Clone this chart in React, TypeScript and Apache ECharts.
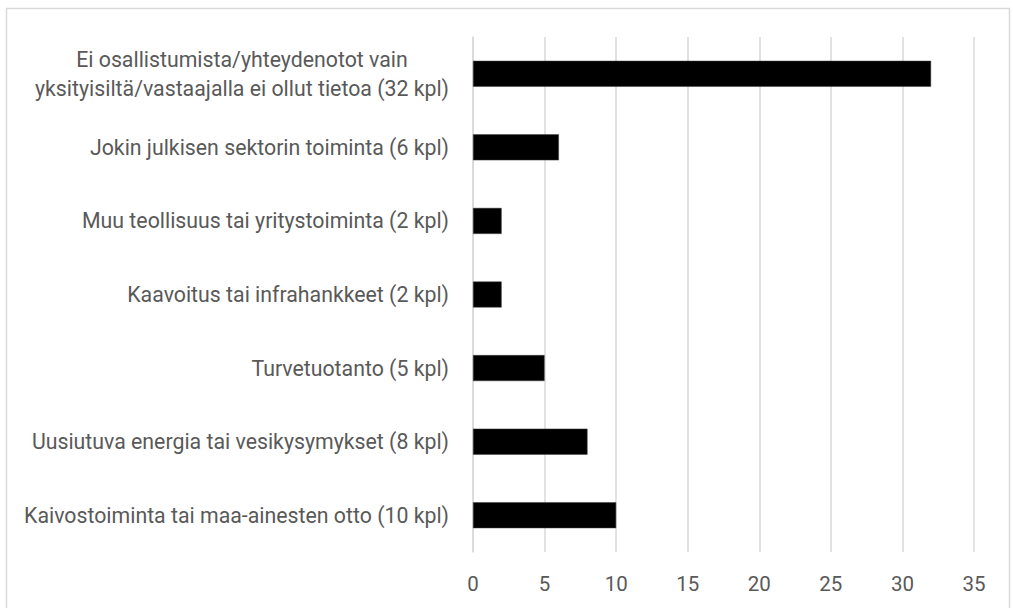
import React, { useEffect, useRef } from "react";
import * as echarts from "echarts";

const categories = [
  "Kaivostoiminta tai maa-ainesten otto (10 kpl)",
  "Uusiutuva energia tai vesikysymykset (8 kpl)",
  "Turvetuotanto (5 kpl)",
  "Kaavoitus tai infrahankkeet (2 kpl)",
  "Muu teollisuus tai yritystoiminta (2 kpl)",
  "Jokin julkisen sektorin toiminta (6 kpl)",
  "Ei osallistumista/yhteydenotot vain\nyksityisiltä/vastaajalla ei ollut tietoa (32 kpl)",
];
const values = [10, 8, 5, 2, 2, 6, 32];
const xMin = 0;
const xMax = 35;
const xStep = 5;

export default function App() {
  const ref = useRef<HTMLDivElement>(null);
  useEffect(() => {
    if (!ref.current) return;
    const chart = echarts.init(ref.current, undefined, { renderer: "svg" });
    chart.setOption({
      animation: false,
      backgroundColor: "#ffffff",
      graphic: [
        {
          type: "rect",
          shape: { x: 6.5, y: 8.5, width: 1003, height: 620 },
          style: { fill: "none", stroke: "#d9d9d9", lineWidth: 1.5 },
          silent: true,
        },
      ],
      grid: { left: 473, right: 39, top: 37, bottom: 56, containLabel: false },
      xAxis: {
        type: "value",
        min: xMin,
        max: xMax,
        interval: xStep,
        axisLine: { show: false },
        axisTick: { show: false },
        splitLine: { show: true, lineStyle: { color: "#d9d9d9", width: 1.5 } },
        axisLabel: {
          color: "#595959",
          fontSize: 20.5,
          fontFamily: "Roboto",
          margin: 21,
        },
      },
      yAxis: {
        type: "category",
        data: categories,
        axisLine: { show: true, lineStyle: { color: "#d9d9d9", width: 1.5 } },
        axisTick: { show: false },
        axisLabel: {
          color: "#595959",
          fontSize: 21.3,
          fontFamily: "Roboto",
          margin: 24,
          lineHeight: 29,
          formatter: (v: string) =>
            v
              .split("\n")
              .map((s) => "{c|" + s + "}")
              .join("\n"),
          rich: {
            c: {
              align: "center",
              color: "#595959",
              fontSize: 21.3,
              fontFamily: "Roboto",
              lineHeight: 29,
            },
          },
        },
      },
      series: [
        {
          type: "bar",
          data: values,
          barWidth: 26,
          itemStyle: { color: "#000000", borderColor: "#404040", borderWidth: 0.5 },
        },
      ],
    });
    return () => chart.dispose();
  }, []);
  return (
    <div
      ref={ref}
      style={{ position: "fixed", left: 0, top: 0, width: 1013, height: 608 }}
    />
  );
}
